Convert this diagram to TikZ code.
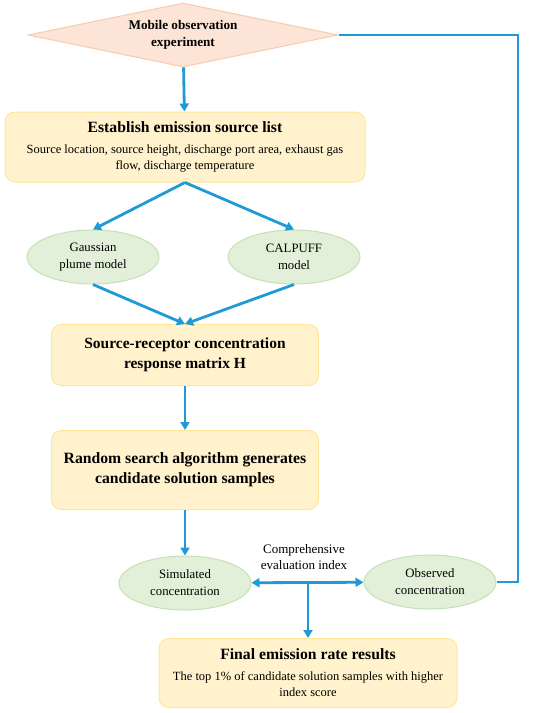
\documentclass[tikz,border=0pt]{standalone}
\usepackage{fontspec}
\setmainfont{Liberation Serif}
\usetikzlibrary{shapes.geometric,arrows.meta}
\definecolor{flowblue}{HTML}{1E9BD7}
\definecolor{peachfill}{HTML}{FCE4D6}
\definecolor{peachline}{HTML}{F8CBAD}
\definecolor{boxfill}{HTML}{FFF2CC}
\definecolor{boxline}{HTML}{FFE699}
\definecolor{modelfill}{HTML}{E2F0D9}
\definecolor{modelline}{HTML}{C5E0B4}
\newcommand{\thickness}{2.8pt}
\newcommand{\headfont}{\fontsize{15.7}{19}\selectfont\bfseries}
\newcommand{\subfont}{\fontsize{12.5}{16}\selectfont\mdseries}

\begin{document}
\begin{tikzpicture}[x=1pt,y=-1pt,
    stepbox/.style={draw=boxline, fill=boxfill, line width=1pt, rounded corners=10pt,
        align=center, inner sep=0pt},
    modelnode/.style={ellipse, draw=modelline, fill=modelfill, line width=1pt,
        minimum width=132pt, minimum height=54pt, inner sep=0pt, align=center,
        font=\fontsize{12.8}{17}\selectfont},
    flow/.style={draw=flowblue, line width=\thickness, -{Triangle[length=8pt,width=9pt]}}]
    \useasboundingbox (0,0) rectangle (550,713);

    %Start:
    \node[diamond, aspect=4.8, draw=peachline, fill=peachfill, line width=1pt,
        minimum width=310pt, minimum height=64pt, inner sep=0pt, align=center,
        font=\fontsize{13.2}{17}\selectfont\bfseries] (mobile) at (183,35)
        {Mobile observation\\experiment};

    %Source list:
    \node[stepbox, minimum width=360pt, minimum height=70pt] (source) at (185,147)
        {\headfont Establish emission source list\\[9pt]
         \subfont Source location, source height, discharge port area, exhaust gas\\[4pt]
         \subfont flow, discharge temperature};

    %Models:
    \node[modelnode] (gauss) at (93,257) {Gaussian\\plume model};
    \node[modelnode] (calpuff) at (294,257) {CALPUFF\\model};

    %Matrix:
    \node[stepbox, minimum width=267pt, minimum height=61pt,
        font=\fontsize{15.5}{20}\selectfont\bfseries] (matrix) at (185,355)
        {Source-receptor concentration\\response matrix H};

    %Search:
    \node[stepbox, minimum width=267pt, minimum height=79pt,
        font=\fontsize{15.7}{20}\selectfont\bfseries] (search) at (185,470)
        {Random search algorithm generates\\candidate solution samples};

    %Concentrations:
    \node[modelnode] (sim) at (185,583) {Simulated\\concentration};
    \node[modelnode] (obs) at (430,582) {Observed\\concentration};
    \node[align=center, font=\fontsize{13}{16}\selectfont] (index) at (304,557)
        {Comprehensive\\evaluation index};

    %Result:
    \node[stepbox, minimum width=298pt, minimum height=69pt] (final) at (308,673)
        {\headfont Final emission rate results\\[9pt]
         \subfont The top 1\% of candidate solution samples with higher\\[4pt]
         \subfont index score};

    \coordinate (split) at (final.north |- sim.east);
    \coordinate (corner) at (518,35);

    \draw[flow] (mobile) -- (source);
    \draw[flow] (source.south) -- (gauss.north);
    \draw[flow] (source.south) -- (calpuff.north);
    \draw[flow] (gauss.south) -- (matrix.north);
    \draw[flow] (calpuff.south) -- (matrix.north);
    \draw[flow] (matrix) -- (search);
    \draw[flow] (search) -- (sim);
    \draw[flow, {Triangle[length=8pt,width=9pt]}-{Triangle[length=8pt,width=9pt]}] (sim) -- (obs);
    \draw[flow] (split) -- (final);
    %Feedback:
    \draw[draw=flowblue, line width=\thickness] (mobile.east) -- (corner) |- (obs.east);
\end{tikzpicture}
\end{document}
